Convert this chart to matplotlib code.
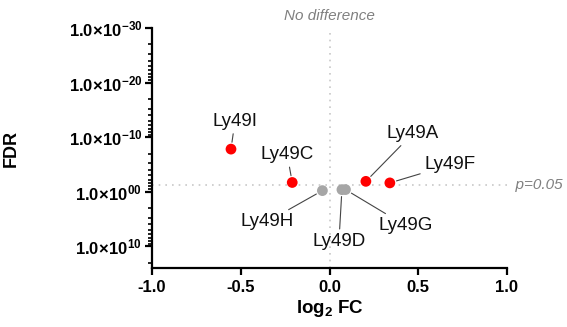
import numpy as np
import matplotlib
matplotlib.use("Agg")
import matplotlib.pyplot as plt

plt.rcParams['font.family'] = ['Liberation Sans', 'DejaVu Sans']
plt.rcParams['mathtext.fontset'] = 'custom'
plt.rcParams['mathtext.rm'] = 'Liberation Sans:bold'
plt.rcParams['mathtext.it'] = 'Liberation Sans:italic'
plt.rcParams['mathtext.bf'] = 'Liberation Sans:bold'

# данные
genes = ["Ly49I", "Ly49C", "Ly49H", "Ly49D", "Ly49G", "Ly49A", "Ly49F"]
log2fc = [-0.555, -0.21, -0.04, 0.07, 0.09, 0.205, 0.34]
fdr = [1.6e-8, 0.021, 0.65, 0.43, 0.42, 0.013, 0.025]
ytick_exp = ["-30", "-20", "-10", "00", "10"]
ytick_pos = [30, 20, 10, 0, -10]

# смещения подписей (пиксели)
label_offsets = [(4, 28), (-5, 28), (-55, -31), (-3, -52), (60, -36), (47, 48), (60, 18)]

y = -np.log10(fdr)
colors = ['#FF0000' if f < 0.05 else '#A6A6A6' for f in fdr]

fig = plt.figure(figsize=(5.67, 3.27), dpi=100)
ax = fig.add_axes([152 / 567, 1 - 268 / 327, 355 / 567, 240 / 327])

ax.axhline(-np.log10(0.05), color='#C8C8C8', lw=1.2, ls=(0, (1, 3)), zorder=1)
ax.axvline(0, color='#C8C8C8', lw=1.2, ls=(0, (1, 3)), zorder=1)

ax.scatter(log2fc, y, s=60, c=colors, zorder=3, linewidths=0)

for g, xv, yv, off in zip(genes, log2fc, y, label_offsets):
    ax.annotate(g, (xv, yv), xytext=off, textcoords='offset pixels',
                ha='center', va='center', fontsize=13.5, color='#111111',
                arrowprops=dict(arrowstyle='-', color='#444444', lw=0.8,
                                shrinkA=1, shrinkB=5))

ax.set_xlim(-1.0, 1.0)
ax.set_ylim(-14, 30)
ax.set_xticks([-1.0, -0.5, 0.0, 0.5, 1.0])
ax.set_xticklabels(["-1.0", "-0.5", "0.0", "0.5", "1.0"], fontweight='bold', fontsize=12)
ax.set_yticks(ytick_pos)
ax.set_yticklabels([r"$1.0\!\times\!10^{%s}$" % e for e in ytick_exp], fontsize=12)

minor = []
for top in [30, 20, 10, 0, -10]:
    for k in range(2, 10):
        v = top - 10 * np.log10(k)
        if v > -14:
            minor.append(v)
ax.set_yticks(minor, minor=True)

for s in ['top', 'right']:
    ax.spines[s].set_visible(False)
for s in ['left', 'bottom']:
    ax.spines[s].set_linewidth(1.6)
ax.tick_params(axis='both', which='major', width=1.6, length=5)
ax.tick_params(axis='y', which='minor', width=1.2, length=3)
ax.tick_params(axis='y', which='major', pad=2)

ax.set_xlabel(r"log$_2$ FC", fontweight='bold', fontsize=13.5, labelpad=2)
ax.set_ylabel("FDR", fontweight='bold', fontsize=13)
ax.yaxis.set_label_coords(-132 / 355, 0.5)

ax.text(0, 1.02, "No difference", transform=ax.get_xaxis_transform(), ha='center', va='bottom',
        style='italic', color='#808080', fontsize=11)
ax.text(1.0, -np.log10(0.05), "  p=0.05", ha='left', va='center', style='italic',
        color='#808080', fontsize=11, clip_on=False)

fig.savefig("out.png", dpi=100)
